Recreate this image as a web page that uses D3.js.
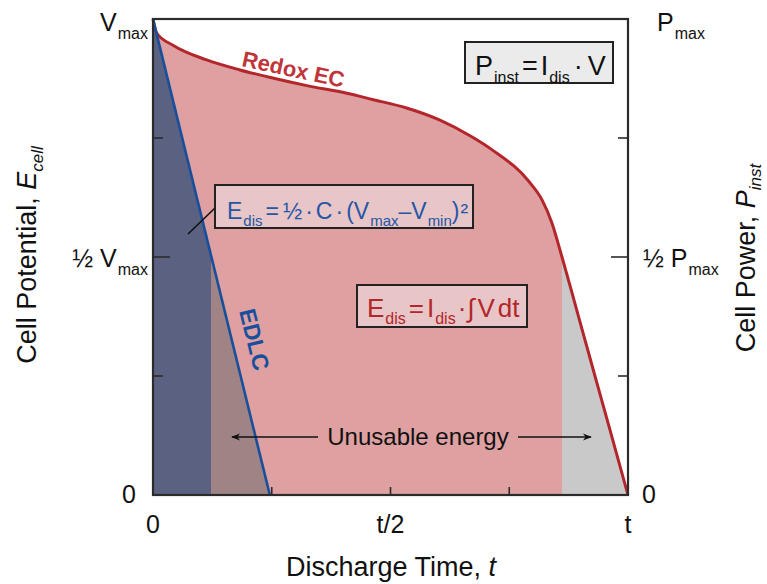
<!DOCTYPE html>
<html>
<head>
<meta charset="utf-8">
<script src="https://cdn.jsdelivr.net/npm/d3@7"></script>
<style>
  html, body { margin: 0; padding: 0; background: #fff; }
  svg { display: block; font-family: "Liberation Sans", Arial, Helvetica, sans-serif; }
</style>
</head>
<body>
<svg id="chart" width="767" height="584"></svg>
<script>
// Normalised discharge time (0..t) and cell potential (0..Vmax)
const redoxTime = [0, 0.008, 0.042, 0.113, 0.183, 0.252, 0.324, 0.408, 0.462, 0.534, 0.603, 0.672, 0.714, 0.792, 0.819, 0.840, 0.861, 0.882, 0.903, 0.933, 0.960, 1.0];
const redoxPotential = [1.0, 0.970, 0.945, 0.914, 0.893, 0.876, 0.860, 0.844, 0.831, 0.813, 0.788, 0.752, 0.725, 0.658, 0.620, 0.571, 0.500, 0.425, 0.349, 0.241, 0.144, 0.0];
const edlcTime = [0, 0.246];
const edlcPotential = [1.0, 0.0];
const minPotential = 0.5;              // Vmin = ½ Vmax

const xTickValues = [0, 0.5, 1];
const xTickLabels = ["0", "t/2", "t"];
const minorTicks = [0.25, 0.5, 0.75];

const svg = d3.select("#chart");
const plot = { left: 153, right: 628, top: 19, bottom: 495 };

const x = d3.scaleLinear().domain([0, 1]).range([plot.left, plot.right]);
const y = d3.scaleLinear().domain([0, 1]).range([plot.bottom, plot.top]);

const redox = redoxTime.map((t, i) => ({ t, v: redoxPotential[i] }));
const edlc = edlcTime.map((t, i) => ({ t, v: edlcPotential[i] }));

// time at which each device falls to Vmin
const redoxCut = redox.find(d => d.v <= minPotential).t;
const edlcCut = edlcTime[0] + (edlcTime[1] - edlcTime[0]) * (edlcPotential[0] - minPotential) / (edlcPotential[0] - edlcPotential[1]);

const defs = svg.append("defs");
function clipRect(id, t0, t1) {
  defs.append("clipPath").attr("id", id).append("rect")
    .attr("x", x(t0)).attr("y", plot.top - 5)
    .attr("width", x(t1) - x(t0)).attr("height", plot.bottom - plot.top + 10);
  return `url(#${id})`;
}

const areaGen = d3.area().x(d => x(d.t)).y0(y(0)).y1(d => y(d.v)).curve(d3.curveMonotoneX);
const lineGen = d3.line().x(d => x(d.t)).y(d => y(d.v)).curve(d3.curveMonotoneX);

// Redox EC energy: usable (pink) and below Vmin (grey)
svg.append("path").datum(redox).attr("d", areaGen)
  .attr("fill", "#dfa0a2").attr("clip-path", clipRect("redoxUse", 0, redoxCut));
svg.append("path").datum(redox).attr("d", areaGen)
  .attr("fill", "#c9c9c9").attr("clip-path", clipRect("redoxLost", redoxCut, 1.01));

// EDLC energy: usable (slate) and below Vmin (mauve)
const edlcArea = d3.area().x(d => x(d.t)).y0(y(0)).y1(d => y(d.v));
svg.append("path").datum(edlc).attr("d", edlcArea)
  .attr("fill", "#5a6181").attr("clip-path", clipRect("edlcUse", 0, edlcCut));
svg.append("path").datum(edlc).attr("d", edlcArea)
  .attr("fill", "#a08384").attr("clip-path", clipRect("edlcLost", edlcCut, edlcTime[1] + 0.01));

// Curves
svg.append("path").datum(redox).attr("d", lineGen)
  .attr("fill", "none").attr("stroke", "#b3262b").attr("stroke-width", 3);
svg.append("path").datum(edlc).attr("d", d3.line().x(d => x(d.t)).y(d => y(d.v)))
  .attr("fill", "none").attr("stroke", "#174f9c").attr("stroke-width", 2.6);

// Frame and ticks
const axisColor = "#2b2b2b";
svg.append("rect")
  .attr("x", plot.left).attr("y", plot.top)
  .attr("width", plot.right - plot.left).attr("height", plot.bottom - plot.top)
  .attr("fill", "none").attr("stroke", axisColor).attr("stroke-width", 2.2);

const tickG = svg.append("g").attr("stroke", axisColor).attr("stroke-width", 1.6);
minorTicks.forEach(v => {
  const len = v === 0.5 ? 17 : 10;
  tickG.append("line").attr("x1", plot.left).attr("x2", plot.left + len).attr("y1", y(v)).attr("y2", y(v));
  tickG.append("line").attr("x1", plot.right - len).attr("x2", plot.right).attr("y1", y(v)).attr("y2", y(v));
  tickG.append("line").attr("x1", x(v)).attr("x2", x(v)).attr("y1", plot.bottom).attr("y2", plot.bottom - 8);
});

// Rich text helper: parts of {t, sub, italic, dx}
function rich(g, parts, opts) {
  const size = opts.size, subSize = opts.subSize || Math.round(size * 0.62), shift = opts.shift || Math.round(size * 0.32);
  const text = g.append("text")
    .attr("x", opts.x).attr("y", opts.y)
    .attr("font-size", size)
    .attr("fill", opts.fill || "#111")
    .attr("text-anchor", opts.anchor || "start");
  if (opts.transform) text.attr("transform", opts.transform);
  if (opts.weight) text.attr("font-weight", opts.weight);
  let down = false;
  parts.forEach(p => {
    const ts = text.append("tspan").text(p.t);
    if (p.sub && !down) { ts.attr("dy", shift); down = true; }
    else if (!p.sub && down) { ts.attr("dy", -shift); down = false; }
    if (p.dx) ts.attr("dx", p.dx);
    ts.attr("font-size", p.sub ? subSize : size);
    if (p.italic) ts.attr("font-style", "italic");
  });
  return text;
}

const labels = svg.append("g");

// Left potential labels
rich(labels, [{ t: "V" }, { t: "max", sub: true, dx: 1 }], { x: 148, y: 31, size: 25, subSize: 16, shift: 8, anchor: "end" });
rich(labels, [{ t: "½ V" }, { t: "max", sub: true, dx: 1 }], { x: 148, y: 267, size: 25, subSize: 16, shift: 8, anchor: "end" });
rich(labels, [{ t: "0" }], { x: 136, y: 503, size: 25, anchor: "end" });

// Right power labels
rich(labels, [{ t: "P" }, { t: "max", sub: true, dx: 1 }], { x: 657, y: 31, size: 25, subSize: 16, shift: 8 });
rich(labels, [{ t: "½ P" }, { t: "max", sub: true, dx: 1 }], { x: 643, y: 267, size: 25, subSize: 16, shift: 8 });
rich(labels, [{ t: "0" }], { x: 642, y: 503, size: 25 });

// Time tick labels
xTickValues.forEach((v, i) => {
  rich(labels, [{ t: xTickLabels[i] }], { x: x(v), y: 533, size: 25, anchor: "middle" });
});

// Axis titles
rich(labels, [{ t: "Discharge Time, " }, { t: "t", italic: true }], { x: 391, y: 576, size: 27, anchor: "middle" });
rich(labels, [{ t: "Cell Potential, " }, { t: "E", italic: true }, { t: "cell", sub: true, italic: true }],
  { x: 0, y: 0, size: 27, subSize: 17, shift: 7, anchor: "middle", transform: "translate(36,255) rotate(-90)" });
rich(labels, [{ t: "Cell Power, " }, { t: "P", italic: true }, { t: "inst", sub: true, italic: true }],
  { x: 0, y: 0, size: 27, subSize: 17, shift: 6, anchor: "middle", transform: "translate(755,258) rotate(-90)" });

// Curve labels
rich(labels, [{ t: "Redox EC" }], { x: 0, y: 0, size: 22, weight: "bold", fill: "#c0353a",
  transform: "translate(241,66) rotate(12)" });
rich(labels, [{ t: "EDLC" }], { x: 0, y: 0, size: 23, weight: "bold", fill: "#174f9c",
  transform: "translate(239,311) rotate(76)" });

// Formula boxes
function box(x0, y0, w, h, fill) {
  svg.append("rect").attr("x", x0).attr("y", y0).attr("width", w).attr("height", h)
    .attr("fill", fill).attr("stroke", "#222").attr("stroke-width", 2);
}

box(465, 42, 148, 41, "#ebebeb");
rich(svg, [{ t: "P" }, { t: "inst", sub: true, dx: 1 }, { t: "=", dx: 3 }, { t: "I", dx: 3 }, { t: "dis", sub: true, dx: 1 },
           { t: "·", dx: 4 }, { t: "V", dx: 5 }],
  { x: 475, y: 75, size: 27, subSize: 16, shift: 8 });

// Leader from the EDLC area to its energy formula
svg.append("line").attr("x1", 188).attr("y1", 234).attr("x2", 215).attr("y2", 208)
  .attr("stroke", "#111").attr("stroke-width", 1.6);
box(215, 185, 258, 43, "#e8c5c7");
rich(svg, [{ t: "E" }, { t: "dis", sub: true, dx: 1 }, { t: "=", dx: 3 }, { t: "½", dx: 4 }, { t: "·", dx: 3 },
           { t: "C", dx: 3 }, { t: "·", dx: 3 }, { t: "(", dx: 3 }, { t: "V" }, { t: "max", sub: true, dx: 1 },
           { t: "–" }, { t: "V" }, { t: "min", sub: true, dx: 1 }, { t: ")" }, { t: "²", dx: 1 }],
  { x: 227, y: 219, size: 23, subSize: 15, shift: 7, fill: "#2356a6" });

box(357, 285, 170, 42, "#e8c5c7");
rich(svg, [{ t: "E" }, { t: "dis", sub: true, dx: 1 }, { t: "=", dx: 3 }, { t: "I", dx: 3 }, { t: "dis", sub: true, dx: 1 },
           { t: "·", dx: 2 }, { t: "∫", dx: 1 }, { t: "V", dx: 3 }, { t: "dt", dx: 3 }],
  { x: 367, y: 317, size: 26, subSize: 16, shift: 7, fill: "#b3262b" });

// Unusable energy annotation
defs.append("marker").attr("id", "arrowHead").attr("viewBox", "0 0 10 10")
  .attr("refX", 9).attr("refY", 5).attr("markerWidth", 9).attr("markerHeight", 9)
  .attr("markerUnits", "userSpaceOnUse").attr("orient", "auto")
  .append("path").attr("d", "M0,1 L10,5 L0,9 L3,5 Z").attr("fill", "#111");
const ann = svg.append("g");
rich(ann, [{ t: "Unusable energy" }], { x: 418, y: 445, size: 24, anchor: "middle" });
ann.append("line").attr("x1", 318).attr("y1", 437).attr("x2", 232).attr("y2", 437)
  .attr("stroke", "#111").attr("stroke-width", 1.6).attr("marker-end", "url(#arrowHead)");
ann.append("line").attr("x1", 518).attr("y1", 437).attr("x2", 591).attr("y2", 437)
  .attr("stroke", "#111").attr("stroke-width", 1.6).attr("marker-end", "url(#arrowHead)");
</script>
</body>
</html>
